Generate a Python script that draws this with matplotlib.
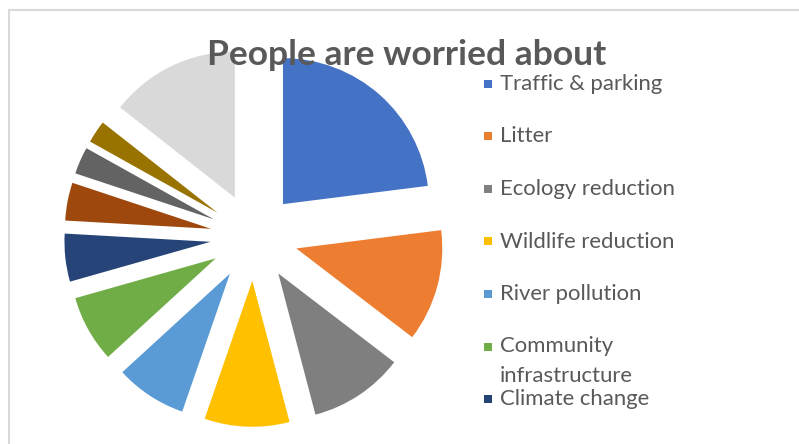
import matplotlib
matplotlib.use("Agg")
import matplotlib.pyplot as plt
from matplotlib.patches import Rectangle

# shares (percent), clockwise from 12 o'clock
labels = ['Traffic & parking', 'Litter', 'Ecology reduction', 'Wildlife reduction',
          'River pollution', 'Community\ninfrastructure', 'Climate change',
          'Category 8', 'Category 9', 'Category 10', 'Category 11']
shares = [23.0, 12.4, 10.5, 9.4, 7.9, 7.4, 5.3, 4.2, 3.0, 2.5, 14.4]
colors = ['#4472C4', '#ED7D31', '#7F7F7F', '#FFC000', '#5B9BD5', '#70AD47',
          '#264478', '#9E480E', '#636363', '#997300', '#D9D9D9']
# only the first seven entries fit in the legend
n_legend = 7

W, H = 799, 444
fig = plt.figure(figsize=(W / 100, H / 100), dpi=100)

# light grey chart border
fig.patches.append(Rectangle((8.5 / W, -0.1), 1.2, (H - 10.5) / H + 0.1,
                             transform=fig.transFigure, fill=False,
                             edgecolor='#D9D9D9', linewidth=1.5))

# pie: 146 px per unit, centre at (254, 237) px from top-left
r_px = 146
cx, cy = 254, 237
lim = 1.6
size = 2 * lim * r_px
ax = fig.add_axes([(cx - size / 2) / W, (H - cy - size / 2) / H, size / W, size / H])
ax.pie(shares, colors=colors, startangle=90, counterclock=False,
       explode=[0.3] * len(shares), wedgeprops=dict(linewidth=0))
ax.set_xlim(-lim, lim)
ax.set_ylim(-lim, lim)
ax.axis('off')

txt_col = '#595959'
fig.text(407 / W, 1 - 65 / H, 'People are worried about', ha='center', va='baseline',
         fontsize=25.5, fontweight='bold', color=txt_col, family='Lato')

# legend drawn by hand so that the wrapped entry overflows like the original
y0, step, line_h = 84, 52.5, 29
for i in range(n_legend):
    y = y0 + i * step
    fig.patches.append(Rectangle((484 / W, 1 - (y + 4) / H), 8 / W, 8 / H,
                                 transform=fig.transFigure, facecolor=colors[i],
                                 edgecolor='none'))
    for k, line in enumerate(labels[i].split('\n')):
        fig.text(500 / W, 1 - (y + k * line_h) / H, line, ha='left', va='center',
                 fontsize=15.9, color=txt_col, family='Lato')

fig.savefig('out.png', dpi=100)
